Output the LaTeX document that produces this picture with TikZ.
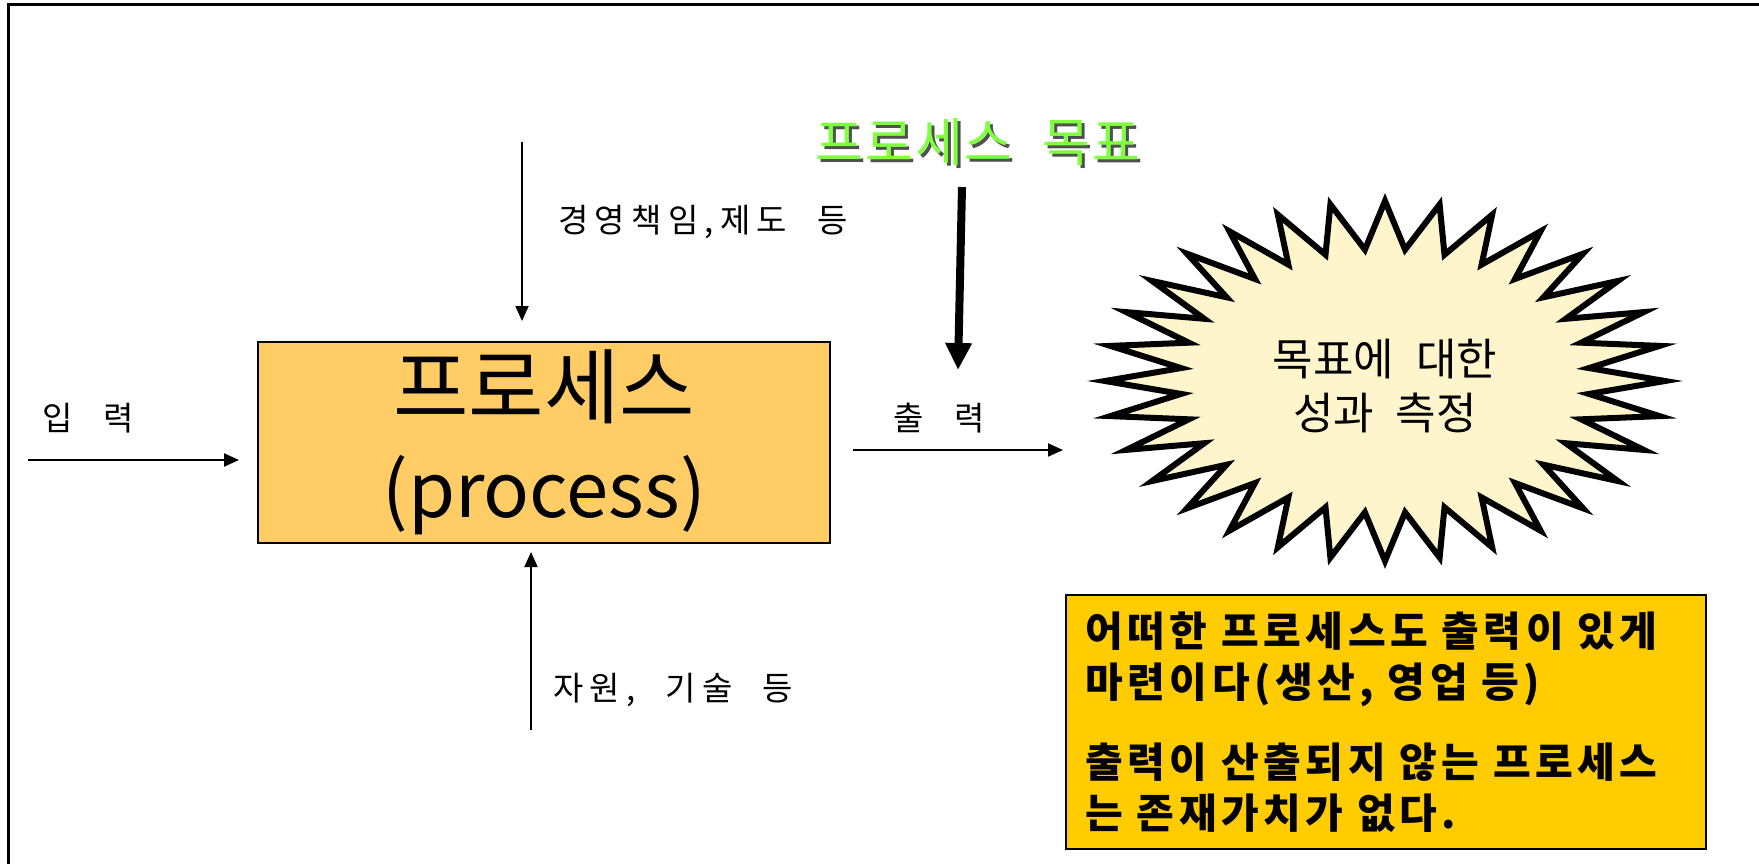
\documentclass[tikz,border=0pt]{standalone}
\usepackage{fontspec}
\setmainfont[WordSpace=2.2]{Noto Sans CJK KR}
\newfontfamily\lblfont[LetterSpace=19,WordSpace=2.2]{Noto Sans CJK KR}
\newfontfamily\notefont[LetterSpace=11,WordSpace=2.2]{Noto Sans CJK KR}
\newfontfamily\goalface[LetterSpace=4,WordSpace=2.2]{Noto Sans CJK KR}
\usetikzlibrary{arrows.meta,positioning,calc}
\definecolor{procfill}{RGB}{255,204,102}
\definecolor{starfill}{RGB}{255,245,204}
\definecolor{notefill}{RGB}{255,204,0}
\definecolor{goalgreen}{RGB}{128,255,64}
\definecolor{goalshadow}{RGB}{80,80,80}

\begin{document}
\begin{tikzpicture}[x=1pt, y=-1pt, >=Triangle,
    arr/.style={->, line width=2pt, >={Triangle[length=15pt,width=13pt]}},
    bigarr/.style={-{Triangle[length=27pt,width=25pt]}, line width=8pt},
    lbl/.style={font=\lblfont\fontsize{33}{40}\selectfont, inner sep=0pt},
    procbox/.style={rectangle, draw, line width=2pt, fill=procfill, minimum width=572pt, minimum height=201pt, align=center, font=\fontsize{76}{100}\selectfont, inner sep=0pt},
    notebox/.style={rectangle, draw, line width=2pt, fill=notefill, minimum width=639pt, minimum height=254pt, text width=600pt, inner xsep=20pt, align=left, font=\notefont\bfseries\fontsize{41}{51}\selectfont},
    goalfont/.style={font=\goalface\fontsize{52}{60}\selectfont, inner sep=0pt}]

    \useasboundingbox (0,0) rectangle (1759,864);
    % outer frame (cut off at right and bottom)
    \draw[line width=3pt] (8,880) -- (8,5) -- (1780,5);

    \node[procbox] (proc) at (544,442.5) {{\fontsize{82}{100}\selectfont 프로세스}\\(process)};

    % starburst
    \coordinate (burst) at (1385,381);
    \draw[line width=6pt, line join=miter, fill=starfill, shift={(burst)}]
        (90:280 and 180)
        \foreach \k [evaluate=\k as \rx using {mod(\k,2)==0 ? 280 : 205},
                     evaluate=\k as \ry using {mod(\k,2)==0 ? 180 : 132}] in {1,...,63}
        { -- ({90+\k*5.625}:{\rx} and {\ry}) } -- cycle;
    \node[align=center, font=\fontsize{44}{54}\selectfont, inner sep=0pt] (measure) at (1385,386) {목표에 대한\\성과 측정};

    \node[notebox] (note) at (1385.5,722) {어떠한 프로세스도 출력이 있게\\마련이다(생산, 영업 등)\\[29pt]출력이 산출되지 않는 프로세스\\는 존재가치가 없다.};

    % goal title with shadow
    \node[goalfont, text=goalshadow] at (981,145) {프로세스 목표};
    \node[goalfont, text=goalgreen] (goal) at (978,142) {프로세스 목표};

    \coordinate (inbeg) at (28,460);
    \coordinate (outend) at (1063,450);
    \coordinate (mgmt) at (522,142);
    \coordinate (res) at (531,730);
    \coordinate (goalbeg) at (962,187);
    \coordinate (goalend) at (958,370);

    \draw[arr, shorten >=18pt] (inbeg) -- (inbeg -| proc.west);
    \draw[arr, shorten <=22pt] (proc.east |- outend) -- (outend);
    \draw[arr, shorten >=20pt] (mgmt) -- (mgmt |- proc.north);
    \draw[arr, shorten >=8pt] (res) -- (res |- proc.south);
    \draw[bigarr] (goalbeg) -- (goalend);

    \node[lbl] (inlbl) at (88,418) {입 력};
    \node[lbl] (outlbl) at (939,418) {출 력};
    \node[lbl, anchor=west] (mgmtlbl) at (558,222) {경영책임,제도 등};
    \node[lbl, anchor=west] (reslbl) at (553,690) {자원, 기술 등};
\end{tikzpicture}
\end{document}
